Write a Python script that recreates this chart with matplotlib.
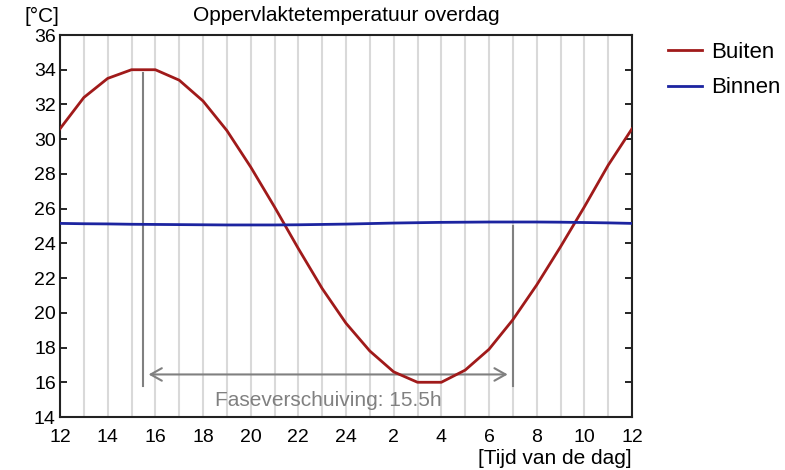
import matplotlib
matplotlib.use("Agg")
import matplotlib.pyplot as plt

plt.rcParams['font.family'] = ['Liberation Sans', 'DejaVu Sans']

hours = list(range(12, 37))
buiten = [30.6, 32.4, 33.5, 34.0, 34.0, 33.4, 32.2, 30.5, 28.4, 26.1, 23.7, 21.4, 19.4,
          17.8, 16.6, 16.0, 16.0, 16.7, 17.9, 19.6, 21.6, 23.8, 26.1, 28.5, 30.6]
binnen = [25.15, 25.13, 25.12, 25.10, 25.09, 25.08, 25.07, 25.06, 25.06, 25.06, 25.07, 25.09, 25.11,
          25.14, 25.17, 25.19, 25.21, 25.22, 25.23, 25.23, 25.23, 25.22, 25.20, 25.18, 25.15]
xticks = list(range(12, 37, 2))
xticklabels = ['12', '14', '16', '18', '20', '22', '24', '2', '4', '6', '8', '10', '12']
yticks = list(range(14, 37, 2))

peak_hour = 15.5
shift = 15.5
shift_label = "Faseverschuiving: 15.5h"

fig = plt.figure(figsize=(7.85, 4.7), dpi=100)
ax = fig.add_axes([60/785, 53/470, 572/785, 382/470])

for h in hours:
    ax.axvline(h, color='#d9d9d9', lw=1.5, zorder=0)

ax.plot(hours, buiten, color='#a01a1a', lw=2, label='Buiten', zorder=3)
ax.plot(hours, binnen, color='#1c24a0', lw=2, label='Binnen', zorder=3)

gray = '#808080'
ax.plot([peak_hour, peak_hour], [15.8, 33.8], color=gray, lw=1.5, zorder=2)
ax.plot([peak_hour + shift, peak_hour + shift], [15.8, 25.0], color=gray, lw=1.5, zorder=2)
ax.annotate('', xy=(peak_hour + shift - 0.1, 16.45), xytext=(peak_hour + 0.1, 16.45),
            arrowprops=dict(arrowstyle='<->,head_length=0.8,head_width=0.45', color=gray, lw=1.5),
            zorder=2)
ax.text(23.25, 14.95, shift_label, color=gray, fontsize=15,
        ha='center', va='center')

ax.set_xlim(12, 36)
ax.set_ylim(14, 36)
ax.set_xticks(xticks)
ax.set_xticklabels(xticklabels)
ax.set_yticks(yticks)
ax.tick_params(axis='both', direction='in', labelsize=14, length=5, width=1.2,
               right=True, pad=3)
ax.tick_params(axis='x', length=0, pad=9)
for side in ['left', 'bottom', 'top', 'right']:
    ax.spines[side].set_linewidth(1.5)
    ax.spines[side].set_color('#222222')

ax.set_title('Oppervlaktetemperatuur overdag', fontsize=15, pad=10)
fig.text(25/785, 1 - 16/470, '[°C]', fontsize=15, ha='left', va='center')
fig.text(632/785, 1 - 458/470, '[Tijd van de dag]', fontsize=15, ha='right', va='center')

leg = fig.legend(loc='upper left', bbox_to_anchor=(668/785, 1 - 42/470), frameon=False,
                 fontsize=16, handlelength=1.55, labelspacing=0.65, handletextpad=0.4,
                 borderpad=0, borderaxespad=0)

fig.savefig('out.png', dpi=100)
